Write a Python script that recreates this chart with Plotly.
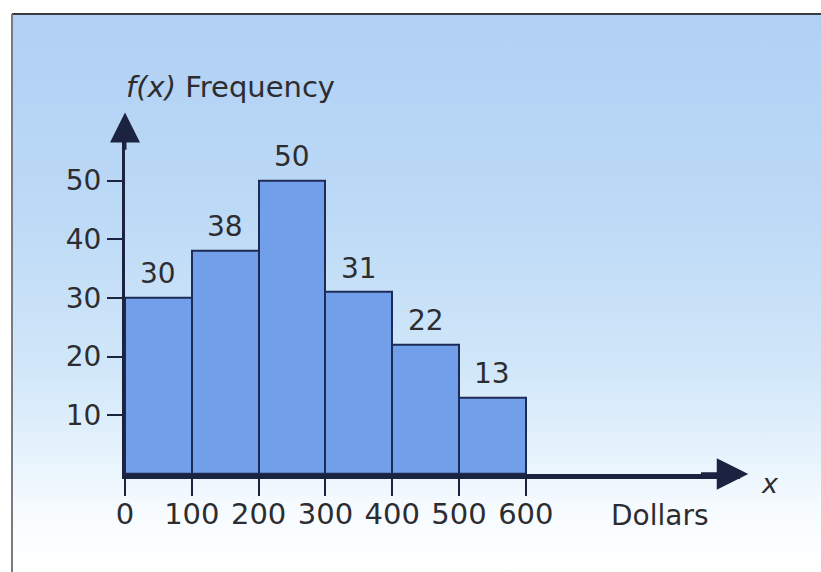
import base64
import plotly.graph_objects as go

# Frequency histogram of spending in dollars
bin_starts = [0, 100, 200, 300, 400, 500]
bin_width = 100
frequencies = [30, 38, 50, 31, 22, 13]
x_ticks = [0, 100, 200, 300, 400, 500, 600]
y_ticks = [10, 20, 30, 40, 50]

W, H = 821, 572
X_RANGE = [0, 920]
Y_RANGE = [0, 60]
PX_PER_X = 0.668   # pixels per dollar
PX_PER_Y = 5.87    # pixels per frequency unit
ORIGIN_PX = (125, 474)

x_dom = [ORIGIN_PX[0] / W, (ORIGIN_PX[0] + X_RANGE[1] * PX_PER_X) / W]
y_dom = [(H - ORIGIN_PX[1]) / H, (H - ORIGIN_PX[1] + Y_RANGE[1] * PX_PER_Y) / H]


def px(x, y):
    """pixel position -> paper coordinates"""
    return x / W, 1 - y / H


INK = "#2d2d31"
AXIS = "#1b2340"
FONT = "DejaVu Sans, sans-serif"
FS = 27

centers = [s + bin_width / 2 for s in bin_starts]

fig = go.Figure()
fig.add_trace(go.Bar(
    x=centers, y=frequencies, width=bin_width,
    marker=dict(color="#729fe9", line=dict(color="#1d2b55", width=2)),
    hoverinfo="x+y", cliponaxis=False,
))

# value labels above each bar
for cx, f in zip(centers, frequencies):
    fig.add_annotation(x=cx, y=f, text=str(f), showarrow=False,
                       yanchor="middle", yshift=24,
                       font=dict(size=28, color=INK, family=FONT))

# arrowheads on both axes
fig.add_annotation(x=0, y=61.6, ax=0, ay=55, xref="x", yref="y",
                   axref="x", ayref="y", showarrow=True, arrowhead=2,
                   arrowsize=2, arrowwidth=3, arrowcolor=AXIS, text="")
fig.add_annotation(x=933, y=0, ax=860, ay=0, xref="x", yref="y",
                   axref="x", ayref="y", showarrow=True, arrowhead=2,
                   arrowsize=1.8, arrowwidth=3.5, arrowcolor=AXIS, text="")

# axis titles
tx, ty = px(124, 87)
fig.add_annotation(x=tx, y=ty, xref="paper", yref="paper", xanchor="left",
                   yanchor="middle", showarrow=False,
                   text="<i>f(x)</i> Frequency",
                   font=dict(size=29, color=INK, family=FONT))
tx, ty = px(770, 483)
fig.add_annotation(x=tx, y=ty, xref="paper", yref="paper", xanchor="center",
                   yanchor="middle", showarrow=False, text="<i>x</i>",
                   font=dict(size=FS, color=INK, family=FONT))
tx, ty = px(660, 515)
fig.add_annotation(x=tx, y=ty, xref="paper", yref="paper", xanchor="center",
                   yanchor="middle", showarrow=False, text="Dollars",
                   font=dict(size=28, color=INK, family=FONT))

# light blue panel fading to white, drawn as an SVG gradient
svg = (
    '<svg xmlns="http://www.w3.org/2000/svg" width="100" height="100" preserveAspectRatio="none">'
    '<defs><linearGradient id="g" x1="0" y1="0" x2="0" y2="1">'
    '<stop offset="0" stop-color="#b1d0f4"/>'
    '<stop offset="0.35" stop-color="#bcd9f6"/>'
    '<stop offset="0.65" stop-color="#d2e8f9"/>'
    '<stop offset="0.8" stop-color="#e8f4fc"/>'
    '<stop offset="0.9" stop-color="#f8fcff"/>'
    '<stop offset="1" stop-color="#ffffff"/>'
    '</linearGradient></defs>'
    '<rect width="100" height="100" fill="url(#g)"/></svg>'
)
src = "data:image/svg+xml;base64," + base64.b64encode(svg.encode()).decode()
fx0, fy0 = px(12, 14)
fig.add_layout_image(source=src, xref="paper", yref="paper", x=fx0, y=fy0,
                     sizex=1 - fx0, sizey=fy0, sizing="stretch",
                     xanchor="left", yanchor="top", layer="below")

# frame lines (top and left)
fig.add_shape(type="line", xref="paper", yref="paper", x0=fx0, x1=1,
              y0=fy0, y1=fy0, line=dict(color="#3a3a40", width=2))
fig.add_shape(type="line", xref="paper", yref="paper", x0=fx0, x1=fx0,
              y0=0, y1=fy0, line=dict(color="#7a7a80", width=2))

fig.update_layout(
    width=W, height=H,
    margin=dict(l=0, r=0, t=0, b=0, autoexpand=False),
    paper_bgcolor="white",
    plot_bgcolor="rgba(0,0,0,0)",
    showlegend=False,
    bargap=0,
    font=dict(family=FONT, color=INK),
    xaxis=dict(domain=x_dom, range=X_RANGE, tickvals=x_ticks,
               ticks="outside", ticklen=17, tickwidth=2, tickcolor=AXIS,
               showline=True, linewidth=5, linecolor=AXIS, automargin=False,
               showgrid=False, zeroline=False, fixedrange=True,
               ticklabelstandoff=-7,
               tickfont=dict(size=29, color=INK, family=FONT)),
    yaxis=dict(domain=y_dom, range=Y_RANGE, tickvals=y_ticks,
               ticks="outside", ticklen=15, tickwidth=2, tickcolor=AXIS,
               showline=True, linewidth=3, linecolor=AXIS, automargin=False,
               showgrid=False, zeroline=False, fixedrange=True,
               ticklabelstandoff=0,
               tickfont=dict(size=28, color=INK, family=FONT)),
)

fig.write_html("out.html")
